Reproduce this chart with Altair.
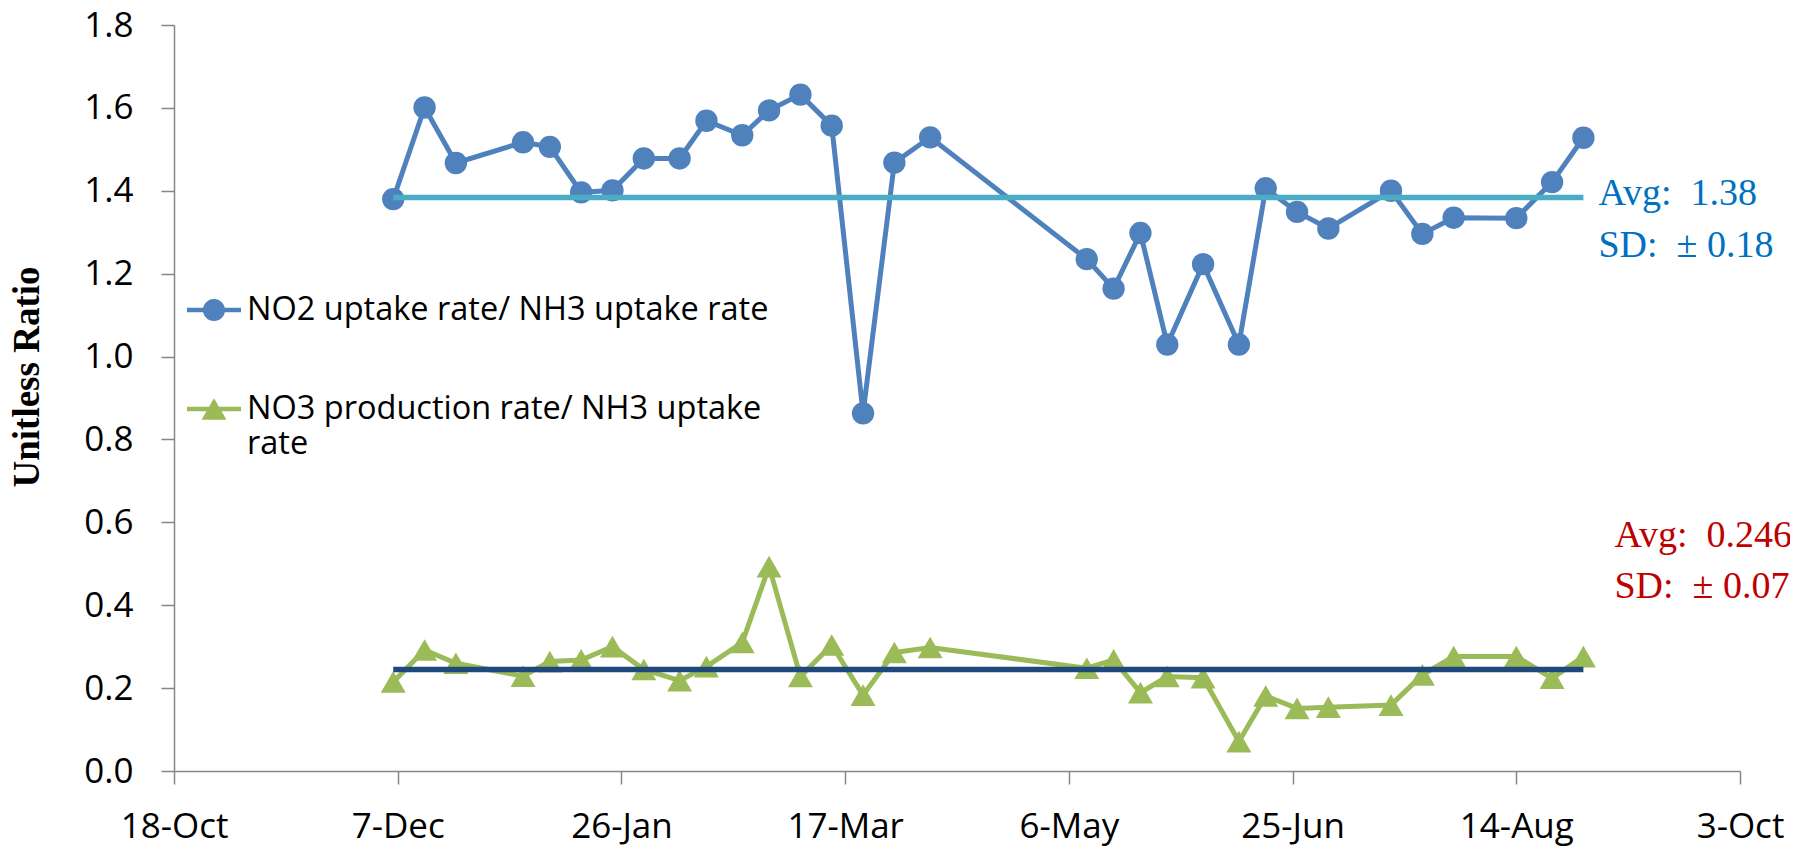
import altair as alt
import pandas as pd

# ---- data ----
dates = ["2012-12-06", "2012-12-13", "2012-12-20", "2013-01-04", "2013-01-10", "2013-01-17",
         "2013-01-24", "2013-01-31", "2013-02-08", "2013-02-14", "2013-02-22", "2013-02-28",
         "2013-03-07", "2013-03-14", "2013-03-21", "2013-03-28", "2013-04-05", "2013-05-10",
         "2013-05-16", "2013-05-22", "2013-05-28", "2013-06-05", "2013-06-13", "2013-06-19",
         "2013-06-26", "2013-07-03", "2013-07-17", "2013-07-24", "2013-07-31", "2013-08-14",
         "2013-08-22", "2013-08-29"]
no2_ratio = [1.380, 1.601, 1.467, 1.517, 1.506, 1.396, 1.401, 1.478, 1.478, 1.569, 1.534, 1.594,
             1.632, 1.557, 0.863, 1.468, 1.529, 1.235, 1.164, 1.298, 1.029, 1.223, 1.029, 1.406,
             1.349, 1.309, 1.400, 1.296, 1.335, 1.334, 1.421, 1.528]
no3_ratio = [0.215, 0.292, 0.260, 0.229, 0.264, 0.268, 0.300, 0.245, 0.218, 0.252, 0.310, 0.493,
             0.228, 0.304, 0.183, 0.286, 0.298, 0.248, 0.268, 0.189, 0.228, 0.225, 0.071, 0.181,
             0.151, 0.154, 0.159, 0.232, 0.276, 0.276, 0.224, 0.276]

series_names = ["NO2 uptake rate/ NH3 uptake rate", "NO3 production rate/ NH3 uptake rate"]
series_colors = ["#4F81BD", "#9BBB59"]
series_shapes = ["circle", "triangle-up"]
series_sizes = [500, 625]

avg_values = [1.384, 0.245]
avg_colors = ["#4BACC6", "#1F497D"]
avg_start = "2012-12-06"
avg_end = "2013-08-29"
avg_labels = ["Avg:\u00a0 1.38\nSD:\u00a0 \u00b1 0.18", "Avg:\u00a0 0.246\nSD:\u00a0 \u00b1 0.07"]
label_colors = ["#0070C0", "#C00000"]

x_ticks = ["2012-10-18", "2012-12-07", "2013-01-26", "2013-03-17", "2013-05-06",
           "2013-06-25", "2013-08-14", "2013-10-03"]
y_ticks = [0.0, 0.2, 0.4, 0.6, 0.8, 1.0, 1.2, 1.4, 1.6, 1.8]

# legend symbols: line with marker (unit square paths)
legend_paths = [
    "M-1,-0.085L1,-0.085L1,0.085L-1,0.085Z M0.41,0A0.41,0.41 0 1,1 -0.41,0A0.41,0.41 0 1,1 0.41,0Z",
    "M-1,-0.085L1,-0.085L1,0.085L-1,0.085Z M0,-0.4L0.463,0.4L-0.463,0.4Z",
]

# ---- tables ----
long_df = pd.DataFrame({
    "date": pd.to_datetime(dates * 2),
    "value": no2_ratio + no3_ratio,
    "series": [series_names[0]] * len(dates) + [series_names[1]] * len(dates),
})
avg_df = pd.DataFrame({
    "series": series_names,
    "start": pd.to_datetime([avg_start] * 2),
    "end": pd.to_datetime([avg_end] * 2),
    "value": avg_values,
    "label": avg_labels,
})


def dt(s):
    y, m, d = (int(p) for p in s.split("-"))
    return alt.DateTime(year=y, month=m, date=d)


x_enc = alt.X("date:T",
              scale=alt.Scale(domain=[dt(x_ticks[0]), dt(x_ticks[-1])]),
              axis=alt.Axis(values=[dt(s) for s in x_ticks], format="%-d-%b", title=None,
                            labelPadding=25, labelFlush=False))
y_enc = alt.Y("value:Q",
              scale=alt.Scale(domain=[0, 1.8], nice=False, zero=True),
              axis=alt.Axis(values=y_ticks, format=".1f", title="Unitless Ratio",
                            titleFont="Liberation Serif", titleFontSize=37, titleFontWeight="bold",
                            titleColor="#000000", titleAngle=270, titleX=-147, titleY=351.5,
                            titleAlign="center", titleBaseline="middle", labelPadding=28))

color_series = alt.Scale(domain=series_names, range=series_colors)

lines = alt.Chart(long_df).mark_line(strokeWidth=5).encode(
    x=x_enc, y=y_enc,
    color=alt.Color("series:N", scale=color_series, legend=None),
)
points = alt.Chart(long_df).mark_point(filled=True, opacity=1).encode(
    x=x_enc, y=y_enc,
    color=alt.Color("series:N", scale=color_series, legend=None),
    shape=alt.Shape("series:N", scale=alt.Scale(domain=series_names, range=series_shapes), legend=None),
    size=alt.Size("series:N", scale=alt.Scale(domain=series_names, range=series_sizes), legend=None),
)
rules = alt.Chart(avg_df).mark_rule(strokeWidth=5.5).encode(
    x=alt.X("start:T"), x2="end:T", y=alt.Y("value:Q"),
    color=alt.Color("series:N", scale=alt.Scale(domain=series_names, range=avg_colors), legend=None),
)
text_blue = alt.Chart(avg_df).transform_filter(alt.datum.series == series_names[0]).mark_text(
    align="left", baseline="alphabetic", dx=15, dy=7.7, lineBreak="\n", lineHeight=52,
    font="Liberation Serif", fontSize=38, color=label_colors[0],
).encode(x="end:T", y="value:Q", text="label:N")
text_red = alt.Chart(avg_df).transform_filter(alt.datum.series == series_names[1]).mark_text(
    align="left", baseline="alphabetic", dx=31, dy=-122.6, lineBreak="\n", lineHeight=51.3,
    font="Liberation Serif", fontSize=38, color=label_colors[1],
).encode(x="end:T", y="value:Q", text="label:N")

legend_spec = alt.Legend(
    title=None, orient="none", legendX=13, legendY=258,
    labelFont="Open Sans", labelFontSize=32.5, labelColor="#000000", labelLimit=0,
    labelOffset=6, symbolSize=2916, symbolStrokeWidth=0, rowPadding=55, padding=0,
    labelExpr="datum.label == '" + series_names[1] + "' ? ['NO3 production rate/ NH3 uptake', 'rate'] : datum.label",
)
legend_layer = alt.Chart(long_df).transform_filter("false").mark_point(filled=True, opacity=1).encode(
    x=x_enc, y=y_enc,
    color=alt.Color("series:N", scale=alt.Scale(domain=series_names, range=series_colors), legend=legend_spec),
    shape=alt.Shape("series:N", scale=alt.Scale(domain=series_names, range=legend_paths), legend=legend_spec),
)

chart = alt.layer(lines, points, rules, text_blue, text_red, legend_layer).resolve_scale(
    color="independent", shape="independent", size="independent"
).properties(
    width=1566, height=746,
    padding={"left": 166, "top": 17, "right": 50, "bottom": 77},
    autosize=alt.AutoSizeParams(type="none"),
).configure_view(stroke=None).configure_axis(
    labelFont="Open Sans", labelFontSize=35, labelColor="#000000",
    domainColor="#868686", tickColor="#868686", domainWidth=1.5, tickWidth=1.5, tickSize=13,
    grid=False,
)

chart.save("out.html", embed_options={"renderer": "svg", "actions": False})
